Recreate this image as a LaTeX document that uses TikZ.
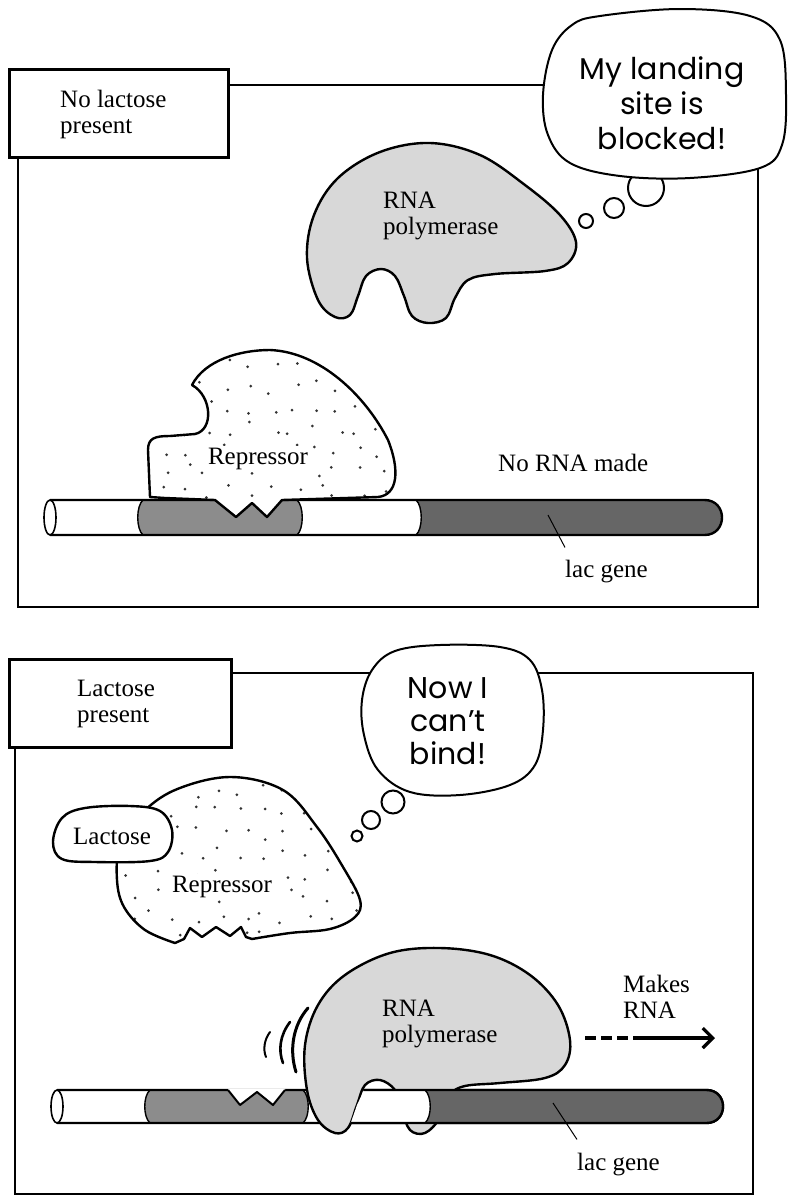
\documentclass[tikz,border=0pt]{standalone}
\usepackage{fontspec}
\setmainfont{Liberation Serif}
\newfontfamily\handfont{Poppins}
\usetikzlibrary{arrows.meta}

\definecolor{polygray}{HTML}{D8D8D8}
\definecolor{opgray}{HTML}{8C8C8C}
\definecolor{genegray}{HTML}{666666}

% DNA tube: #1 left x, #2 top y, #3 bottom y, #4 operator start,
% #5 operator end, #6 gene start, #7 right end
\newcommand\lacDNA[7]{%
  \pgfmathsetmacro\dnaMid{(#2+#3)/2}%
  \pgfmathsetmacro\dnaR{(#3-#2)/2}%
  \fill[white] (#1,#2) -- (#7-\dnaR,#2) .. controls (#7+\dnaR/3,#2) and (#7+\dnaR/3,#3) .. (#7-\dnaR,#3) -- (#1,#3) -- cycle;
  \fill[opgray] (#4,#2) .. controls (#4-7,#2+6) and (#4-7,#3-6) .. (#4,#3) -- (#5,#3)
     .. controls (#5+7,#3-6) and (#5+7,#2+6) .. (#5,#2) -- cycle;
  \fill[genegray] (#6,#2) .. controls (#6+7,#2+6) and (#6+7,#3-6) .. (#6,#3) -- (#7-\dnaR,#3)
     .. controls (#7+\dnaR/3,#3) and (#7+\dnaR/3,#2) .. (#7-\dnaR,#2) -- cycle;
  \draw[line width=1.4pt] (#4,#2) .. controls (#4-7,#2+6) and (#4-7,#3-6) .. (#4,#3);
  \draw[line width=1.4pt] (#5,#2) .. controls (#5+7,#2+6) and (#5+7,#3-6) .. (#5,#3);
  \draw[line width=1.4pt] (#6,#2) .. controls (#6+7,#2+6) and (#6+7,#3-6) .. (#6,#3);
  \draw[line width=2.4pt, line join=round] (#1,#2) -- (#7-\dnaR,#2) .. controls (#7+\dnaR/3,#2) and (#7+\dnaR/3,#3) .. (#7-\dnaR,#3) -- (#1,#3);
  \draw[line width=1.6pt, fill=white] (#1,\dnaMid) ellipse [x radius=6, y radius=\dnaR];
}

% outlines of the repressor proteins
\def\repOne{(150,497) -- (148,450) .. controls (148,438) and (155,436) .. (170,436) -- (195,434)
  .. controls (214,430) and (212,396) .. (192,385) .. controls (205,360) and (240,350) .. (270,350)
  .. controls (320,352) and (365,395) .. (388,440) .. controls (400,470) and (398,495) .. (378,497)
  -- (282,500) -- (267,517) -- (252,503) -- (236,517) -- (215,500) -- (165,498) -- cycle}
\def\repTwo{plot[smooth, tension=0.6] coordinates {(175,943) (145,930) (124,907) (117,880) (120,845)
  (140,815) (175,790) (230,777) (283,790) (317,827) (343,867) (360,900) (355,917) (330,929)
  (290,933) (252,939)} -- (246,937) -- (241,927) -- (230,936) -- (216,927) -- (202,937)
  -- (190,928) -- (184,939) -- cycle}

\begin{document}
\begin{tikzpicture}[x=1pt,y=-1pt,
  serif/.style={font=\fontsize{25}{26}\selectfont, text=black, inner sep=0pt},
  multi/.style={serif, align=left},
  handtext/.style={font=\handfont\fontsize{30}{35}\selectfont, align=center, inner sep=0pt},
  panelframe/.style={draw, line width=1.8pt},
  tagbox/.style={draw, line width=2.6pt, fill=white, inner sep=0pt, anchor=north west},
  outline/.style={draw, line width=2.4pt, line join=round},
  bubble/.style={draw, line width=2pt, fill=white},
  leader/.style={line width=1pt},
  dot/.style={fill=black!80},
]
\useasboundingbox (0,0) rectangle (788,1197);
\pgfmathsetseed{11}

% ---------------- upper panel: no lactose ----------------
\draw[panelframe] (18,85) rectangle (758,607);
\node[tagbox, minimum width=219pt, minimum height=88pt] (tag1) at (8,68) {};
\node[multi, anchor=north west] (tag1text) at (60,90) {No lactose\\present};

% thought bubble of the polymerase
\draw[bubble] (586,221) circle (7);
\draw[bubble] (614,208) circle (10);
\draw[bubble] (646,188) circle (18);
\path[bubble] plot[smooth cycle, tension=0.6] coordinates {(600,16) (680,9) (750,16) (780,40)
  (786,95) (782,145) (760,168) (690,178) (620,176) (570,163) (548,135) (543,95) (552,50) (572,25)};
\node[handtext] (think1) at (662,103) {My landing\\site is\\blocked!};

% RNA polymerase, free
\path[outline, fill=polygray] plot[smooth cycle, tension=0.6] coordinates {(307,258) (314,215)
  (338,178) (380,152) (430,143) (480,155) (525,185) (560,215) (576,242) (568,263) (545,271)
  (495,274) (468,280) (455,298) (446,318) (428,323) (412,316) (404,296) (395,276) (381,269)
  (366,276) (358,296) (350,315) (335,317) (318,300)};
\node[multi, anchor=north west] (pol1) at (383,192) {RNA\\polymerase};

% DNA
\lacDNA{50}{500}{535}{143}{297}{416}{722}

% repressor bound to the operator
\fill[white] \repOne;
\begin{scope}
  \clip \repOne;
  \foreach \i in {0,...,11} {
    \foreach \j in {0,...,7} {
      \fill[dot] ({140+\i*22+rand*7},{345+\j*21+rand*7}) circle (1.5);
    }
  }
\end{scope}
\path[outline] \repOne;
\node[serif, fill=white, inner sep=2pt] (rep1) at (258,459) {Repressor};

\node[serif, anchor=base west] (norna) at (498,471) {No RNA made};
\node[serif, anchor=base west] (lac1) at (565,577) {lac gene};
\coordinate (lac1tip) at (548,515);
\draw[leader] (lac1tip) -- ([yshift=12pt]lac1.north west);

% ---------------- lower panel: lactose present ----------------
\draw[panelframe] (15,673) rectangle (753,1194);
\node[tagbox, minimum width=222pt, minimum height=88pt] (tag2) at (8,658) {};
\node[multi, anchor=north west] (tag2text) at (77,680) {Lactose\\present};

% thought bubble of the repressor
\draw[bubble] (357,836) circle (5.5);
\draw[bubble] (371,820) circle (9);
\draw[bubble] (393,802) circle (11.5);
\path[bubble] plot[smooth cycle, tension=0.6] coordinates {(440,645) (500,647) (530,660) (542,690)
  (543,730) (535,765) (510,785) (460,795) (410,792) (378,770) (364,735) (362,700) (372,670) (395,651)};
\node[handtext, font=\handfont\fontsize{30}{33}\selectfont] (think2) at (448,721) {Now I\\can’t\\bind!};

% repressor with lactose
\fill[white] \repTwo;
\begin{scope}
  \clip \repTwo;
  \foreach \i in {0,...,12} {
    \foreach \j in {0,...,8} {
      \fill[dot] ({110+\i*22+rand*7},{770+\j*21+rand*7}) circle (1.5);
    }
  }
\end{scope}
\path[outline] \repTwo;
\node[serif, fill=white, inner sep=2pt] (rep2) at (222,887) {Repressor};

\path[outline, fill=white] plot[smooth cycle, tension=0.6] coordinates {(62,818) (85,808) (130,806)
  (160,811) (172,830) (168,852) (150,861) (95,862) (62,859) (53,842)};
\node[serif] (lac) at (112,836) {Lactose};

% DNA with free operator
\lacDNA{57}{1090}{1123}{150}{303}{425}{723}
\fill[white] (228,1088.6) -- (228,1090) -- (240,1105) -- (257,1092) -- (273,1105) -- (285,1090) -- (285,1088.6) -- cycle;
\draw[line width=2pt, line join=round] (228,1090) -- (240,1105) -- (257,1092) -- (273,1105) -- (285,1090);

% RNA polymerase sitting on the promoter
\path[outline, fill=polygray] plot[smooth cycle, tension=0.6] coordinates {(305,1045) (318,1005)
  (345,975) (390,953) (440,948) (490,955) (530,975) (558,1005) (570,1040) (565,1065) (545,1078)
  (500,1083) (465,1086) (450,1095) (440,1118) (425,1133) (410,1130) (402,1110) (395,1090)
  (380,1080) (365,1085) (357,1105) (348,1128) (335,1133) (318,1120) (307,1090)};
% the DNA passes in front of the rear foot
\begin{scope}
  \clip (366,1086) -- (735,1086) -- (735,1128) -- (349,1128) -- (357,1105) -- cycle;
  \lacDNA{57}{1090}{1123}{150}{303}{425}{723}
\end{scope}
\node[multi, anchor=north west] (pol2) at (382,1000) {RNA\\polymerase};

% motion strokes
\draw[line width=2pt, line cap=round] (270,1032) .. controls (264,1040) and (263,1050) .. (266,1057);
\draw[line width=2.6pt, line cap=round] (290,1022) .. controls (280,1035) and (278,1050) .. (283,1063);
\draw[line width=3pt, line cap=round] (308,1008) .. controls (293,1025) and (289,1050) .. (296,1072);

% transcription arrow
\node[multi, anchor=north west] (makes) at (623,975) {Makes\\RNA};
\coordinate (arrS) at (585,1038);
\coordinate (arrM) at (637,1038);
\coordinate (arrE) at (715,1038);
\draw[line width=3.2pt, dash pattern=on 11pt off 5pt] (arrS) -- (arrM);
\draw[line width=3.2pt, -{Straight Barb[length=10pt,width=20pt]}] (arrM) -- (arrE);

\node[serif, anchor=base west] (lac2) at (577,1170) {lac gene};
\coordinate (lac2tip) at (553,1103);
\draw[leader] (lac2tip) -- ([yshift=13pt]lac2.north west);
\end{tikzpicture}
\end{document}
